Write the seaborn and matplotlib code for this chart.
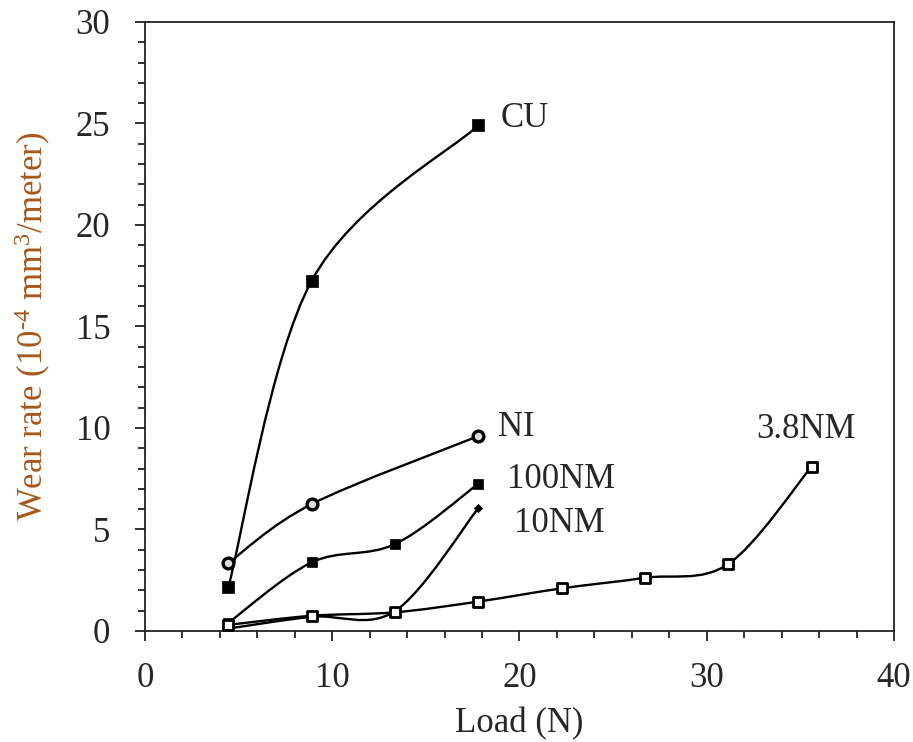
import numpy as np
import matplotlib
matplotlib.use("Agg")
import matplotlib.pyplot as plt
from matplotlib.path import Path
from matplotlib.patches import PathPatch
from matplotlib.ticker import MultipleLocator
import seaborn as sns

# -----------------------------------------
# DATA (load in N, wear rate in 1e-4 mm3/m)
# -----------------------------------------
cu_load = [4.45, 8.9, 17.8]
cu_wear = [2.15, 17.25, 24.9]

ni_load = [4.45, 8.9, 17.8]
ni_wear = [3.35, 6.25, 9.6]

nm100_load = [4.45, 8.9, 13.35, 17.8]
nm100_wear = [0.4, 3.38, 4.28, 7.25]

nm10_load = [4.45, 8.9, 13.35, 17.8]
nm10_wear = [0.12, 0.7, 0.98, 6.05]

nm38_load = [4.45, 8.9, 13.35, 17.8, 22.25, 26.7, 31.15, 35.6]
nm38_wear = [0.3, 0.75, 0.92, 1.45, 2.1, 2.62, 3.3, 8.1]

series_names = ["CU", "NI", "100NM", "10NM", "3.8NM"]

# -----------------------------------------
# STYLE
# -----------------------------------------
sns.set_style("ticks")
plt.rcParams["font.family"] = ["Liberation Serif", "DejaVu Serif"]
plt.rcParams["mathtext.fontset"] = "custom"
plt.rcParams["mathtext.rm"] = "Liberation Serif"
plt.rcParams["mathtext.it"] = "Liberation Serif:italic"


def smooth_path(xs, ys):
    # excel-like smoothed line: catmull-rom turned into cubic bezier segments
    pts = np.column_stack([xs, ys]).astype(float)
    n = len(pts)
    verts = [pts[0]]
    codes = [Path.MOVETO]
    for i in range(n - 1):
        p0 = pts[max(i - 1, 0)]
        p1 = pts[i]
        p2 = pts[i + 1]
        p3 = pts[min(i + 2, n - 1)]
        verts += [p1 + (p2 - p0) / 6, p2 - (p3 - p1) / 6, p2]
        codes += [Path.CURVE4] * 3
    return Path(verts, codes)


fig = plt.figure(figsize=(9.13, 7.42), dpi=100)
ax = fig.add_axes([0.1588, 0.1496, 0.8204, 0.8208])

series = [
    (cu_load, cu_wear, dict(marker="s", s=70, color="black", edgecolor="black", linewidth=0.5)),
    (ni_load, ni_wear, dict(marker="o", s=60, color="#dddddd", edgecolor="black", linewidth=2.4)),
    (nm100_load, nm100_wear, dict(marker="s", s=60, color="black", edgecolor="black", linewidth=0.5)),
    (nm10_load, nm10_wear, dict(marker="D", s=18, color="black", edgecolor="black", linewidth=0.5)),
    (nm38_load, nm38_wear, dict(marker="s", s=60, color="white", edgecolor="black", linewidth=2.0)),
]

for xs, ys, mk in series:
    ax.add_patch(PathPatch(smooth_path(xs, ys), facecolor="none",
                           edgecolor="black", linewidth=1.7, zorder=2))
    sns.scatterplot(x=xs, y=ys, ax=ax, zorder=3, legend=False, **mk)

# labels next to the last point of each curve (offsets in points)
label_offsets = [(16, 5), (14, 6), (21, 3), (26, -11), (-40, 27)]
for (xs, ys, mk), name, off in zip(series, series_names, label_offsets):
    ax.annotate(name, (xs[-1], ys[-1]), xytext=off, textcoords="offset points",
                ha="left", va="center", fontsize=25)

ax.set_xlim(0, 40)
ax.set_ylim(0, 30)
ax.xaxis.set_major_locator(MultipleLocator(10))
ax.xaxis.set_minor_locator(MultipleLocator(2))
ax.yaxis.set_major_locator(MultipleLocator(5))
ax.yaxis.set_minor_locator(MultipleLocator(1))
ax.tick_params(axis="both", which="both", direction="out", color="#222222",
               width=1.3, labelsize=25, top=False, right=False)
ax.tick_params(axis="both", which="major", length=7)
ax.tick_params(axis="both", which="minor", length=5)
ax.tick_params(axis="x", which="major", pad=15)
ax.tick_params(axis="y", which="major", pad=18)
for sp in ax.spines.values():
    sp.set_visible(True)
    sp.set_color("#222222")
    sp.set_linewidth(1.3)

ax.set_xlabel("Load (N)", fontsize=25, labelpad=9)
ax.set_ylabel(r"Wear rate (10$^{\text{-}4}$ mm$^{3}$/meter)", fontsize=25,
              color="#a5581a", labelpad=16)

fig.savefig("out.png", dpi=100)
